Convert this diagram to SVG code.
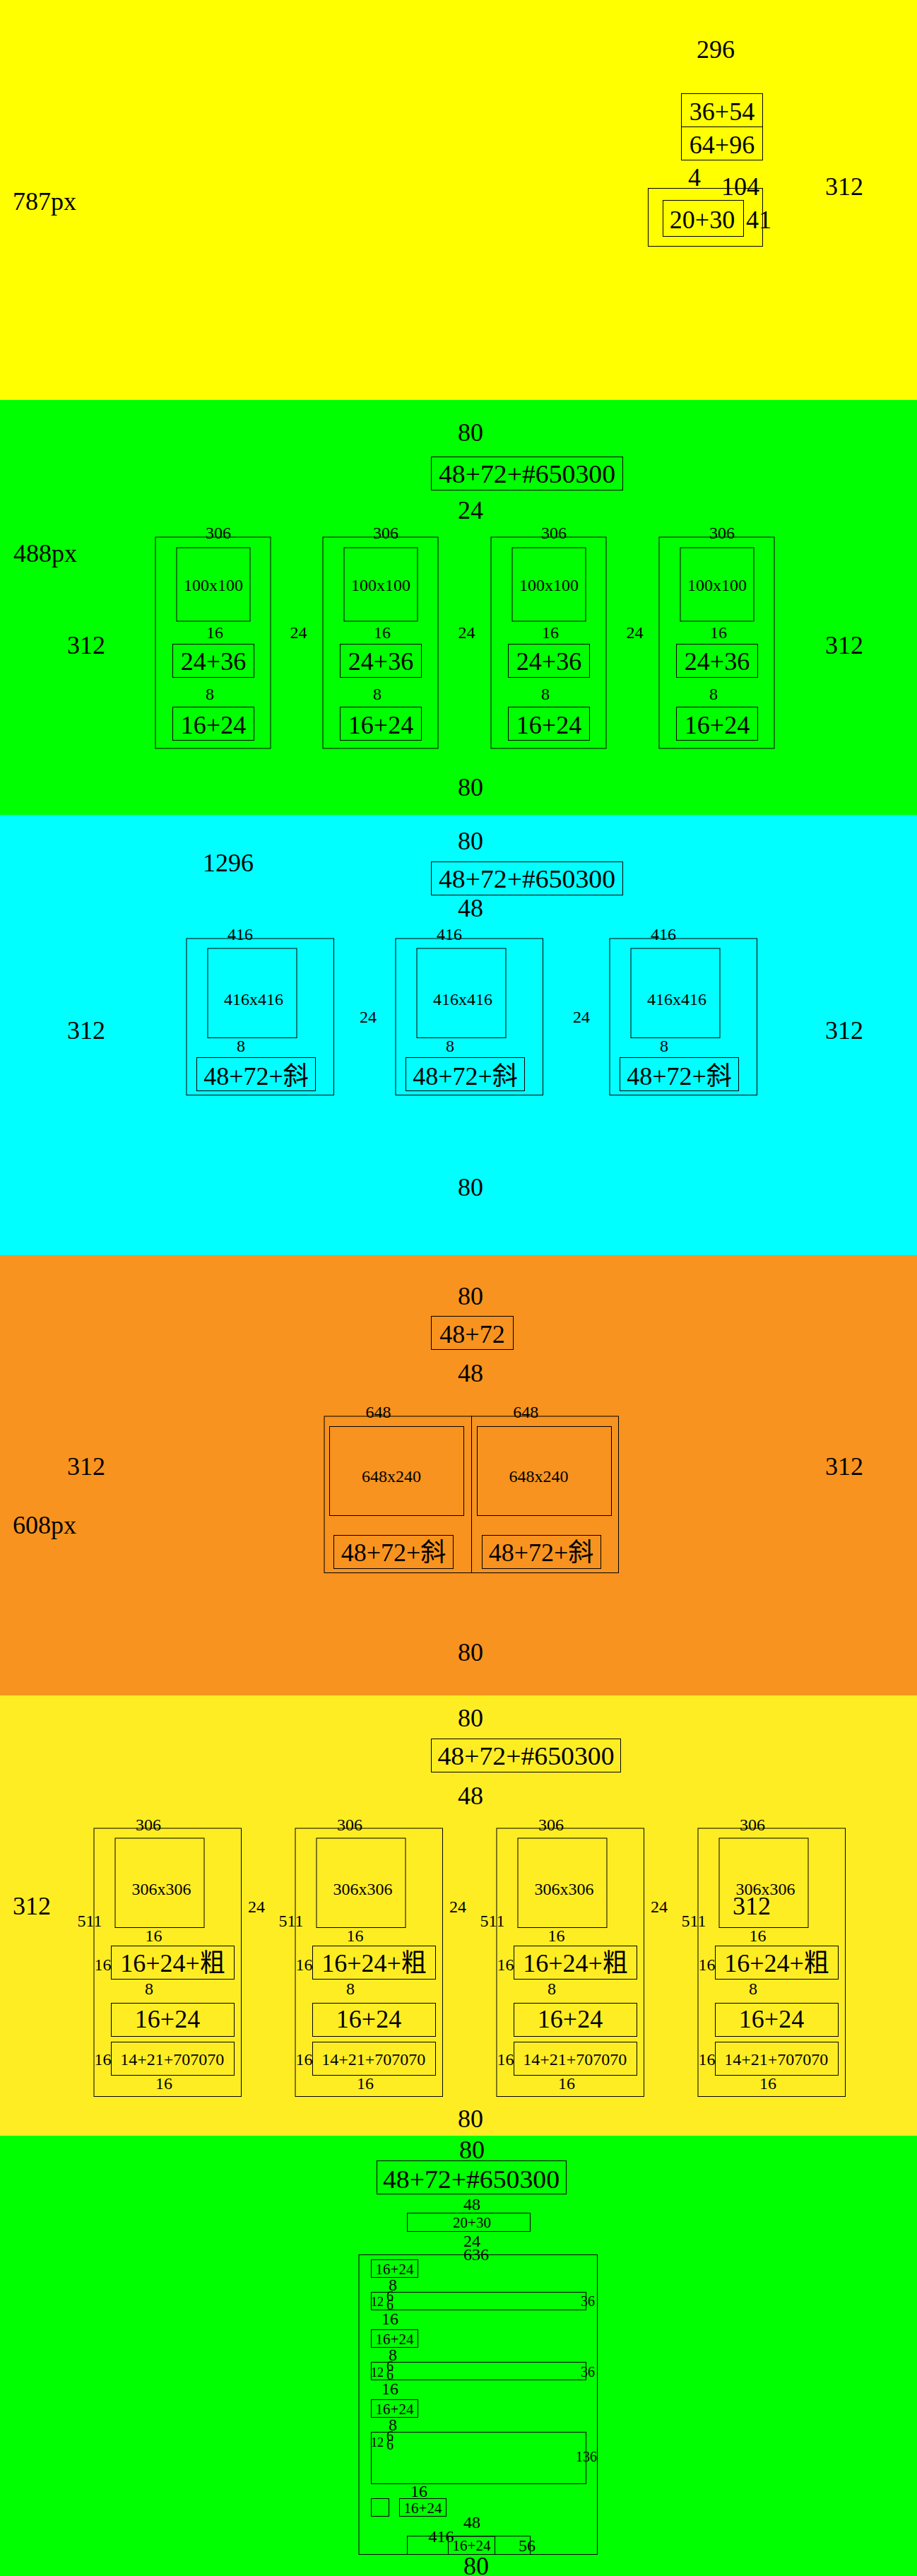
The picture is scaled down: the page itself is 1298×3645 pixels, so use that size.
<svg xmlns="http://www.w3.org/2000/svg" width="1298" height="3645" viewBox="0 0 1298 3645">
<style>
rect.b{fill:none;stroke:#000;stroke-width:1}
text{font-family:"Liberation Serif","Noto Sans CJK SC",serif;fill:#000}
.s36{font-size:36px}.s24{font-size:24px}.s21{font-size:21px}.s20{font-size:20px}.s18{font-size:18px}
.m{text-anchor:middle}
</style>
<defs>
<g id="card2">
<rect class="b" x="0" y="760" width="163" height="299"/>
<text class="s24 m" x="89" y="762">306</text>
<rect class="b" x="30" y="775" width="104" height="104"/>
<text class="s24 m" x="82" y="836">100x100</text>
<text class="s24 m" x="84" y="903">16</text>
<rect class="b" x="24.5" y="911.5" width="115" height="47"/>
<text class="s36 m" x="82" y="948">24+36</text>
<text class="s24 m" x="77" y="990">8</text>
<rect class="b" x="24.5" y="1000.5" width="115" height="47"/>
<text class="s36 m" x="82" y="1038">16+24</text>
</g>
<g id="card3">
<rect class="b" x="0" y="1328" width="208.5" height="221.5"/>
<text class="s24 m" x="76" y="1330">416</text>
<rect class="b" x="30" y="1342" width="126" height="126.5"/>
<text class="s24 m" x="95" y="1422">416x416</text>
<text class="s24 m" x="77" y="1488">8</text>
<rect class="b" x="14.5" y="1496.5" width="168" height="47"/>
<text class="s36 m" x="98.5" y="1535">48+72+斜</text>
</g>
<g id="card5">
<rect class="b" x="0" y="2587" width="208.5" height="379.5"/>
<text class="s24 m" x="77" y="2590">306</text>
<rect class="b" x="30" y="2601" width="126" height="126.5"/>
<text class="s24 m" x="95.5" y="2681">306x306</text>
<text class="s24 m" x="-6" y="2726">511</text>
<text class="s24 m" x="84.5" y="2747">16</text>
<rect class="b" x="24.5" y="2753.5" width="174" height="47"/>
<text class="s36 m" x="111.5" y="2790">16+24+粗</text>
<text class="s24 m" x="12.5" y="2788">16</text>
<text class="s24 m" x="78" y="2821.5">8</text>
<rect class="b" x="24.5" y="2834.5" width="174" height="47"/>
<text class="s36 m" x="104" y="2868.5">16+24</text>
<rect class="b" x="24.5" y="2889.5" width="174" height="47"/>
<text class="s24 m" x="110.7" y="2921.5">14+21+707070</text>
<text class="s24 m" x="12.5" y="2921.5">16</text>
<text class="s24 m" x="99" y="2956">16</text>
</g>
</defs>

<g id="backgrounds">
<rect x="0" y="0" width="1298" height="566" fill="#ffff00"/>
<rect x="0" y="566" width="1298" height="587" fill="#00ff00"/>
<rect x="0" y="1153" width="1298" height="623" fill="#00ffff"/>
<rect x="0" y="1776" width="1298" height="623" fill="#f7931e"/>
<rect x="0" y="2399" width="1298" height="623" fill="#ffed24"/>
<rect x="0" y="3022" width="1298" height="623" fill="#00ff00"/>
</g>

<g id="section1">
<text class="s36 m" x="1013" y="82">296</text>
<g id="s1-box1"><rect class="b" x="964.5" y="132.5" width="115" height="47"/><text class="s36 m" x="1022" y="170">36+54</text></g>
<g id="s1-box2"><rect class="b" x="964.5" y="179.5" width="115" height="47"/><text class="s36 m" x="1022" y="217">64+96</text></g>
<text class="s36 m" x="983" y="263">4</text>
<text class="s36 m" x="1048" y="276">104</text>
<text class="s36 m" x="1195" y="276">312</text>
<g id="s1-box3"><rect class="b" x="917.5" y="266.5" width="162" height="82"/><rect class="b" x="938.5" y="283.5" width="114" height="51"/><text class="s36 m" x="994" y="323">20+30</text></g>
<text class="s36 m" x="1074" y="323">41</text>
<text class="s36" x="18" y="297">787px</text>
</g>

<g id="section2">
<text class="s36 m" x="666" y="624">80</text>
<g id="s2-title"><rect class="b" x="610.5" y="646.5" width="271" height="47"/><text class="s36 m" x="746" y="683" textLength="250" lengthAdjust="spacingAndGlyphs">48+72+#650300</text></g>
<text class="s36 m" x="666" y="734">24</text>
<text class="s36" x="19" y="795">488px</text>
<text class="s36 m" x="122" y="925">312</text>
<text class="s36 m" x="1195" y="925">312</text>
<text class="s36 m" x="666" y="1126">80</text>
<g id="s2-card1" transform="translate(220,0)"><use href="#card2"/></g>
<g id="s2-card2" transform="translate(457,0)"><use href="#card2"/></g>
<g id="s2-card3" transform="translate(695,0)"><use href="#card2"/></g>
<g id="s2-card4" transform="translate(933,0)"><use href="#card2"/></g>
<text class="s24 m" x="422.5" y="903">24</text>
<text class="s24 m" x="660.5" y="903">24</text>
<text class="s24 m" x="898.5" y="903">24</text>
</g>

<g id="section3">
<text class="s36 m" x="666" y="1202">80</text>
<text class="s36 m" x="323" y="1233">1296</text>
<g id="s3-title"><rect class="b" x="610.5" y="1219.5" width="271" height="47"/><text class="s36 m" x="746" y="1256" textLength="250" lengthAdjust="spacingAndGlyphs">48+72+#650300</text></g>
<text class="s36 m" x="666" y="1297">48</text>
<text class="s36 m" x="122" y="1470">312</text>
<text class="s36 m" x="1195" y="1470">312</text>
<text class="s36 m" x="666" y="1692">80</text>
<g id="s3-card1" transform="translate(264,0)"><use href="#card3"/></g>
<g id="s3-card2" transform="translate(560,0)"><use href="#card3"/></g>
<g id="s3-card3" transform="translate(863,0)"><use href="#card3"/></g>
<text class="s24 m" x="521" y="1447">24</text>
<text class="s24 m" x="823" y="1447">24</text>
</g>

<g id="section4">
<text class="s36 m" x="666" y="1846">80</text>
<g id="s4-title"><rect class="b" x="610.5" y="1862.5" width="116" height="47"/><text class="s36 m" x="668.5" y="1900">48+72</text></g>
<text class="s36 m" x="666" y="1955">48</text>
<text class="s36 m" x="122" y="2087">312</text>
<text class="s36 m" x="1195" y="2087">312</text>
<text class="s36" x="18" y="2170">608px</text>
<text class="s36 m" x="666" y="2350">80</text>
<g id="s4-card1">
<rect class="b" x="459" y="2004" width="208.5" height="221.5"/>
<text class="s24 m" x="535.6" y="2006">648</text>
<rect class="b" x="466.5" y="2018.5" width="190" height="126"/>
<text class="s24 m" x="554" y="2097">648x240</text>
<rect class="b" x="472.5" y="2172.5" width="169" height="47"/>
<text class="s36 m" x="557" y="2209">48+72+斜</text>
</g>
<g id="s4-card2">
<rect class="b" x="667.5" y="2004" width="208" height="221.5"/>
<text class="s24 m" x="744.2" y="2006">648</text>
<rect class="b" x="675.5" y="2018.5" width="190" height="126"/>
<text class="s24 m" x="762.4" y="2097">648x240</text>
<rect class="b" x="682.5" y="2172.5" width="168" height="47"/>
<text class="s36 m" x="766" y="2209">48+72+斜</text>
</g>
</g>

<g id="section5">
<text class="s36 m" x="666" y="2443">80</text>
<g id="s5-title"><rect class="b" x="610.5" y="2460.5" width="268" height="47"/><text class="s36 m" x="744.5" y="2497" textLength="250" lengthAdjust="spacingAndGlyphs">48+72+#650300</text></g>
<text class="s36 m" x="666" y="2553">48</text>
<text class="s36 m" x="45" y="2709">312</text>
<g id="s5-card1" transform="translate(133,0)"><use href="#card5"/></g>
<g id="s5-card2" transform="translate(418,0)"><use href="#card5"/></g>
<g id="s5-card3" transform="translate(703,0)"><use href="#card5"/></g>
<g id="s5-card4" transform="translate(988,0)"><use href="#card5"/></g>
<text class="s36 m" x="1064" y="2709">312</text>
<text class="s24 m" x="363" y="2706">24</text>
<text class="s24 m" x="648" y="2706">24</text>
<text class="s24 m" x="933" y="2706">24</text>
<text class="s36 m" x="666" y="3010">80</text>
</g>

<g id="section6">
<text class="s36 m" x="668" y="3054">80</text>
<g id="s6-title"><rect class="b" x="533.5" y="3057.5" width="268" height="47"/><text class="s36 m" x="667" y="3096" textLength="250" lengthAdjust="spacingAndGlyphs">48+72+#650300</text></g>
<text class="s24 m" x="668" y="3127">48</text>
<g id="s6-sub"><rect class="b" x="576.5" y="3131.5" width="174" height="26"/><text class="s21 m" x="668" y="3152">20+30</text></g>
<text class="s24 m" x="668" y="3179">24</text>
<g id="s6-container">
<rect class="b" x="508" y="3190.5" width="337.5" height="424"/>
<text class="s24 m" x="674" y="3198">636</text>
<g id="s6-row1"><rect class="b" x="525.5" y="3197.5" width="66" height="25"/><text class="s21 m" x="558.5" y="3218">16+24</text></g>
<text class="s24 m" x="556" y="3241">8</text>
<g id="s6-bar1"><rect class="b" x="525.5" y="3243.5" width="304" height="25"/>
<text class="s18" x="525" y="3263">12</text><text class="s20" x="547" y="3256">6</text><text class="s20" x="547" y="3268">6</text>
<text class="s20 m" x="832" y="3263">36</text></g>
<text class="s24 m" x="552" y="3289">16</text>
<g id="s6-row2"><rect class="b" x="525.5" y="3296.5" width="66" height="25"/><text class="s21 m" x="558.5" y="3317">16+24</text></g>
<text class="s24 m" x="556" y="3340">8</text>
<g id="s6-bar2"><rect class="b" x="525.5" y="3342.5" width="304" height="25"/>
<text class="s18" x="525" y="3363">12</text><text class="s20" x="547" y="3355">6</text><text class="s20" x="547" y="3367">6</text>
<text class="s20 m" x="832" y="3363">36</text></g>
<text class="s24 m" x="552" y="3388">16</text>
<g id="s6-row3"><rect class="b" x="525.5" y="3395.5" width="66" height="25"/><text class="s21 m" x="558.5" y="3416">16+24</text></g>
<text class="s24 m" x="556" y="3439">8</text>
<g id="s6-bar3"><rect class="b" x="525.5" y="3441.5" width="304" height="73"/>
<text class="s18" x="525" y="3462">12</text><text class="s20" x="547" y="3454">6</text><text class="s20" x="547" y="3466">6</text>
<text class="s20 m" x="830" y="3483">136</text></g>
<text class="s24 m" x="593" y="3533">16</text>
<g id="s6-row4"><rect class="b" x="525.5" y="3535.5" width="25" height="25"/><rect class="b" x="565.5" y="3535.5" width="66" height="25"/><text class="s21 m" x="598.5" y="3556">16+24</text></g>
<text class="s24 m" x="668" y="3577">48</text>
<g id="s6-foot"><rect class="b" x="576.5" y="3588.5" width="174" height="26"/><rect class="b" x="634.5" y="3589" width="66" height="25.5"/>
<text class="s21 m" x="667.5" y="3609">16+24</text>
<text class="s24 m" x="624.5" y="3597">416</text>
<text class="s24 m" x="746" y="3610">56</text></g>
</g>
<text class="s36 m" x="674" y="3643">80</text>
</g>
<g id="connectors"/>
</svg>
